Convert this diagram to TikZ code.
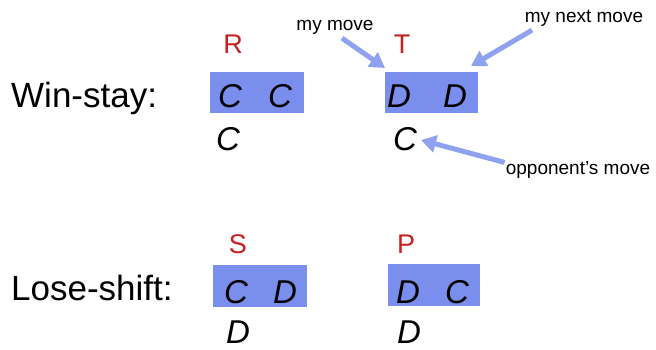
\documentclass[tikz,border=0pt]{standalone}
\usepackage{fontspec}
\setmainfont{Liberation Sans}
\usetikzlibrary{arrows.meta}
\definecolor{boxblue}{RGB}{122,142,238}
\definecolor{arrblue}{RGB}{143,162,240}
\definecolor{payred}{RGB}{196,32,32}
\tikzset{
  movebox/.style={fill=boxblue, draw=none, inner sep=0pt},
  mv/.style={font=\fontsize{33}{33}\selectfont\itshape, inner sep=0pt, anchor=base},
  pay/.style={font=\fontsize{27}{27}\selectfont, text=payred, inner sep=0pt, anchor=base},
  rowlabel/.style={font=\fontsize{35}{35}\selectfont, inner sep=0pt, anchor=base west},
  note/.style={font=\fontsize{19}{19}\selectfont, inner sep=0pt, anchor=base},
  arr/.style={draw=arrblue, line width=5pt, -{Triangle[length=15pt,width=17pt]}, shorten >=0pt}
}
\begin{document}
\begin{tikzpicture}[x=1pt,y=-1pt]
\useasboundingbox[fill=white] (0,0) rectangle (656,349);
% row labels
\node[rowlabel] (ws) at (11,107) {Win-stay:};
\node[rowlabel] (ls) at (11,300) {Lose-shift:};
% boxes
\node[movebox, minimum width=94pt, minimum height=41pt] (b1) at (257,92.5) {};
\node[movebox, minimum width=93pt, minimum height=41pt] (b2) at (431.5,92.5) {};
\node[movebox, minimum width=94pt, minimum height=42pt] (b3) at (260,286) {};
\node[movebox, minimum width=92pt, minimum height=42pt] (b4) at (434,285) {};
% payoff letters
\node[pay] (R) at (233,53) {R};
\node[pay] (T) at (402,53) {T};
\node[pay] (S) at (238,253) {S};
\node[pay] (P) at (406,253) {P};
% moves
\node[mv] (c11) at (230,107) {C};
\node[mv] (c12) at (280,107) {C};
\node[mv] (c13) at (228,150) {C};
\node[mv] (d21) at (399,107) {D};
\node[mv] (d22) at (455,107) {D};
\node[mv] (c23) at (405,150) {C};
\node[mv] (c31) at (236,303) {C};
\node[mv] (d32) at (285,303) {D};
\node[mv] (d33) at (238,343.5) {D};
\node[mv] (d41) at (408,303) {D};
\node[mv] (c42) at (457,303) {C};
\node[mv] (d43) at (409,343.5) {D};
% notes
\node[note] (mymove) at (335,30) {my move};
\node[note] (mynext) at (584,22) {my next move};
\node[note] (opp) at (578,174) {opponent's move};
% arrows
\coordinate (t1) at (385,68);
\coordinate (t2) at (471,66);
\coordinate (t3) at (421,140);
\draw[arr] ([xshift=7pt,yshift=-4pt]mymove.south) -- (t1);
\draw[arr] ([xshift=-52pt,yshift=-4pt]mynext.south) -- (t2);
\draw[arr] ([xshift=-1pt,yshift=7pt]opp.west) -- (t3);
\end{tikzpicture}
\end{document}
